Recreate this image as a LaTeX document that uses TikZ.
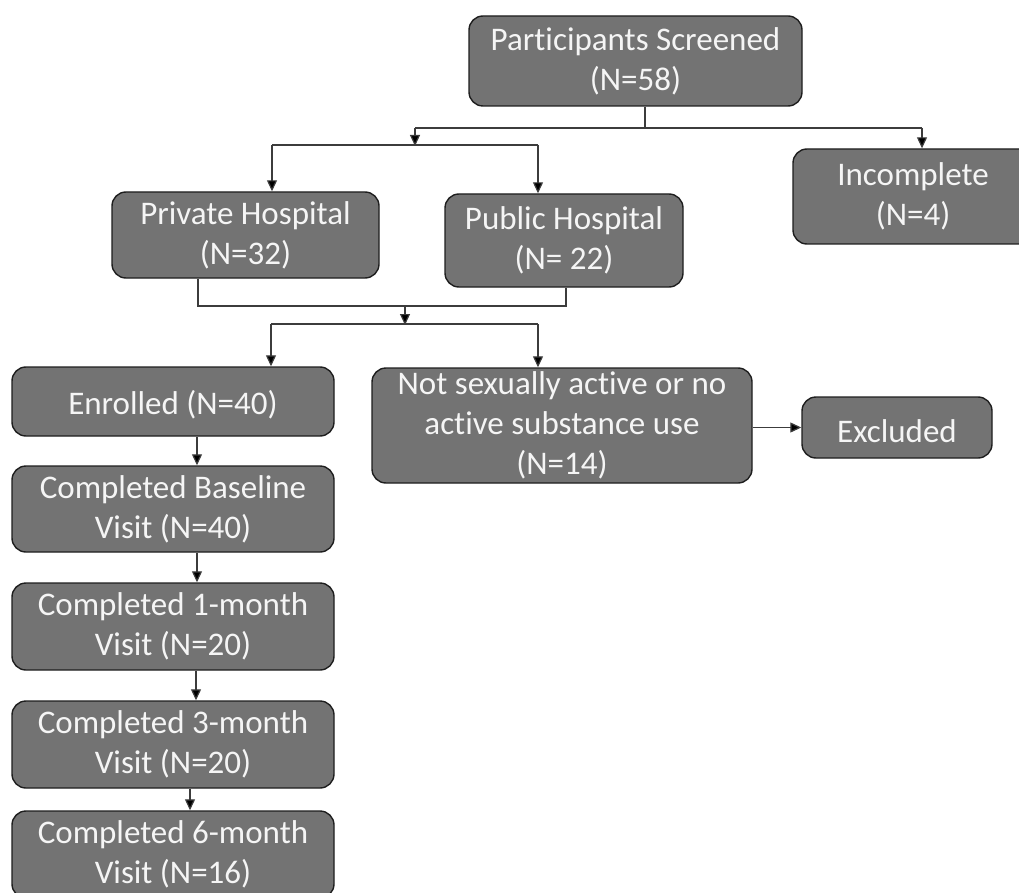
\documentclass[tikz,border=0pt]{standalone}
\usepackage{fontspec}
\setmainfont{Carlito}[Ligatures={NoCommon}]
\usetikzlibrary{arrows.meta,calc}
\definecolor{boxfill}{RGB}{115,115,115}
\definecolor{boxline}{RGB}{30,30,30}
\definecolor{conn}{RGB}{60,60,60}
\definecolor{txt}{RGB}{245,245,245}
\begin{document}
\begin{tikzpicture}[x=1pt,y=-1pt,
  box/.style={draw=boxline,line width=1.4pt,fill=boxfill,rounded corners=14pt,
    text=txt,align=center,inner sep=0pt,anchor=center,
    execute at begin node={\rule{0pt}{31pt}},
    font=\fontsize{33}{40}\selectfont},
  ln/.style={draw=conn,line width=1.2pt},
  arr/.style={ln,-{Triangle[length=11pt,width=10pt,fill=black]}}]
\useasboundingbox (0,0) rectangle (1019,893);
\begin{scope}
\clip (0,0) rectangle (1019,893);
\node[box,minimum width=333pt,minimum height=90pt] (scr) at (635.5,61) {Participants Screened\\(N=58)};
\node[box,minimum width=267pt,minimum height=86pt] (prv) at (245.5,235) {Private Hospital\\(N=32)};
\node[box,minimum width=238pt,minimum height=93pt] (pub) at (564,240.5) {Public Hospital\\(N= 22)};
\node[box,minimum width=240pt,minimum height=95pt] (inc) at (913,196.5) {Incomplete\\(N=4)};
\node[box,minimum width=322pt,minimum height=69pt] (enr) at (173,401.5) {Enrolled (N=40)};
\node[box,minimum width=380pt,minimum height=115pt] (nsa) at (562,425.5) {Not sexually active or no\\active substance use\\(N=14)};
\node[box,minimum width=190pt,minimum height=61pt] (exc) at (897,427.5) {Excluded};
\node[box,minimum width=322pt,minimum height=86pt] (base) at (173,509) {Completed Baseline\\Visit (N=40)};
\node[box,minimum width=322pt,minimum height=87pt] (m1) at (173,626.5) {Completed 1-month\\Visit (N=20)};
\node[box,minimum width=322pt,minimum height=87pt] (m3) at (173,744.5) {Completed 3-month\\Visit (N=20)};
\node[box,minimum width=322pt,minimum height=87pt] (m6) at (173,854.5) {Completed 6-month\\Visit (N=16)};
\end{scope}
% top split
\coordinate (s1) at (645,128);
\coordinate (s1l) at (415,128);
\coordinate (s1r) at (922,128);
\coordinate (j1) at (415,146);
\draw[ln] (scr.south -| s1) -- (s1);
\draw[ln] (s1l) -- (s1r);
\draw[arr] (s1l) -- (j1);
\draw[arr] (s1r) -- (s1r |- inc.north);
% hospitals split
\coordinate (h1) at (272,145);
\coordinate (h2) at (538,145);
\draw[ln] (h1) -- (h2);
\draw[arr] (h1) -- (h1 |- prv.north);
\draw[arr] (h2) -- (h2 |- pub.north);
% merge
\coordinate (m1a) at (198,306);
\coordinate (m1b) at (566,306);
\coordinate (mm) at (405,306);
\coordinate (mj) at (405,325);
\draw[ln] (prv.south -| m1a) -- (m1a) -- (m1b) -- (pub.south -| m1b);
\draw[arr] (mm) -- (mj);
\coordinate (e1) at (271,324);
\coordinate (e2) at (538,324);
\draw[ln] (e1) -- (e2);
\draw[arr] (e1) -- (e1 |- enr.north);
\draw[arr] (e2) -- (e2 |- nsa.north);
\draw[arr] (nsa.east |- exc.west) -- (exc.west);
% chain
\coordinate (c1) at (197,0);
\coordinate (c2) at (196,0);
\coordinate (c3) at (190,0);
\draw[arr] (enr.south -| c1) -- (base.north -| c1);
\draw[arr] (base.south -| c1) -- (m1.north -| c1);
\draw[arr] (m1.south -| c2) -- (m3.north -| c2);
\draw[arr] (m3.south -| c3) -- (m6.north -| c3);
\end{tikzpicture}
\end{document}
